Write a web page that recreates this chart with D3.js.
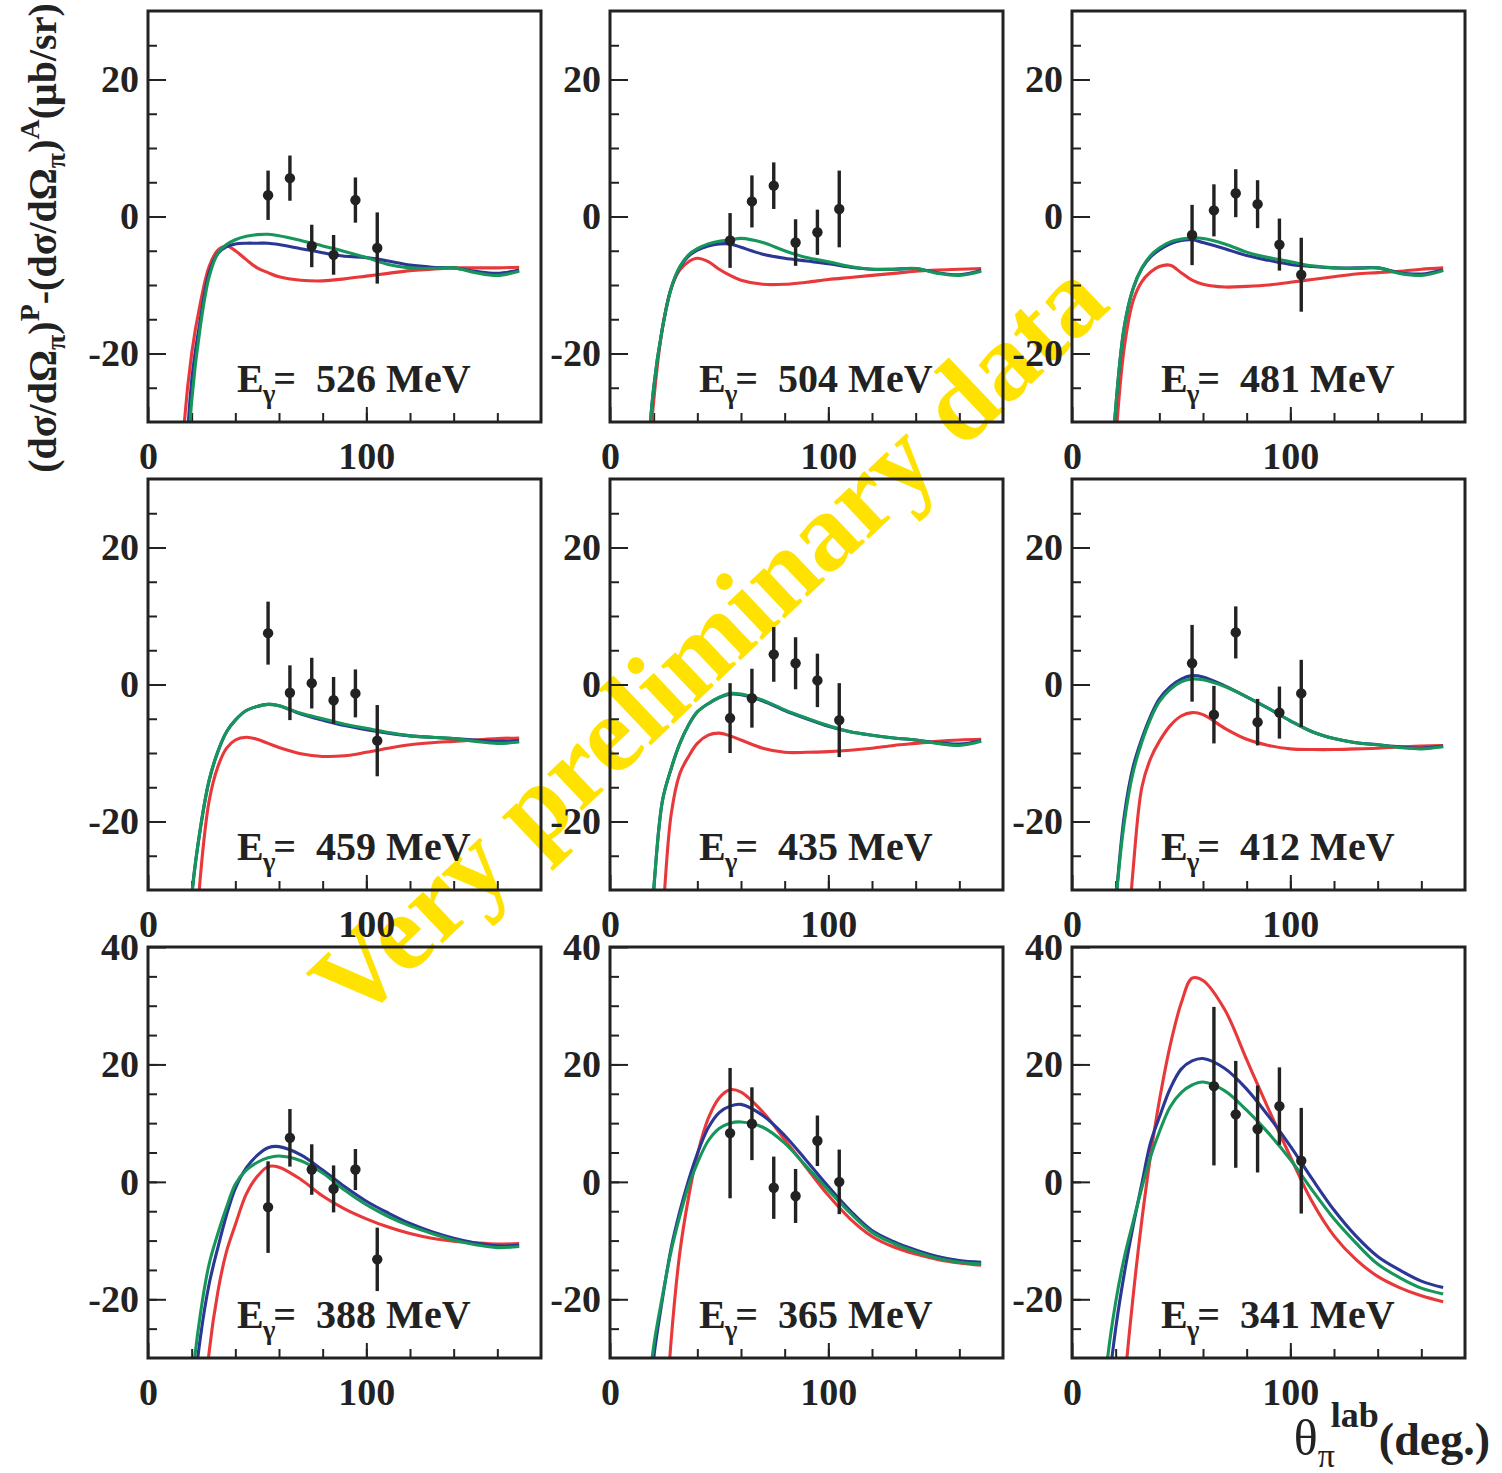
<!DOCTYPE html>
<html>
<head>
<meta charset="utf-8">
<title>Photoproduction difference, nine energies</title>
<script src="https://cdnjs.cloudflare.com/ajax/libs/d3/7.8.5/d3.min.js"></script>
<style>
  body { margin: 0; background: #fff; }
  svg { display: block; }
  .tick text { font-family: "Liberation Serif", "Times New Roman", serif; font-weight: bold; font-size: 38px; fill: #222; }
  .tick line { stroke: #222; stroke-width: 2px; }
  .domain { display: none; }
</style>
</head>
<body>
<div id="chart"></div>
<script>
// Photon energies, one panel each (row by row)
const energies = [526, 504, 481, 459, 435, 412, 388, 365, 341];

// Angle grid (deg) on which the model curves are read
const thetaGrid = [12, 16, 20, 24, 28, 32, 36, 40, 45, 50, 55, 60, 70, 80, 90, 100, 110, 120, 130, 140, 150, 160, 170];

const redCurves = [
  [-80, -33, -20, -12.6, -7.3, -4.9, -4.3, -5.0, -6.3, -7.5, -8.2, -8.8, -9.3, -9.4, -9.1, -8.7, -8.3, -7.9, -7.7, -7.5, -7.5, -7.5, -7.4],
  [-80, -45, -27, -16.3, -10.5, -7.8, -6.6, -6.1, -6.6, -7.7, -8.6, -9.3, -9.9, -9.9, -9.6, -9.2, -8.9, -8.6, -8.3, -8.0, -7.8, -7.7, -7.6],
  [-100, -60, -33, -19, -12.3, -9.5, -8.1, -7.3, -7.1, -8.2, -9.3, -9.9, -10.3, -10.2, -10.0, -9.6, -9.2, -8.8, -8.4, -8.2, -8.0, -7.7, -7.5],
  [-120, -80, -48, -28, -17, -12, -9.3, -8.1, -7.7, -8.0, -8.6, -9.2, -10.1, -10.5, -10.4, -9.9, -9.3, -8.8, -8.5, -8.3, -8.1, -7.9, -7.8],
  [-130, -90, -55, -35, -19, -13, -10.5, -8.6, -7.4, -7.1, -7.5, -8.1, -9.3, -9.9, -9.9, -9.8, -9.6, -9.3, -8.9, -8.6, -8.3, -8.1, -8.0],
  [-150, -100, -70, -45, -27, -15, -10.8, -8.3, -6.0, -4.6, -4.1, -4.4, -6.4, -8.0, -8.9, -9.4, -9.5, -9.5, -9.4, -9.3, -9.1, -9.0, -8.9],
  [-150, -110, -75, -48, -29, -18.7, -11.8, -7.3, -2.1, 0.9, 2.6, 2.5, 0.4, -2.4, -4.6, -6.3, -7.7, -8.8, -9.6, -10.1, -10.4, -10.6, -10.5],
  [-150, -110, -75, -50, -27, -12, -2.6, 4.6, 10.8, 14.3, 15.7, 15.3, 11.9, 7.2, 2.4, -2.3, -6.3, -9.3, -11.1, -12.3, -13.2, -13.8, -14.2],
  [-130, -90, -60, -35, -19.5, -6.5, 4.5, 13.8, 23.3, 30.4, 34.7, 34.3, 29.3, 20.8, 12.4, 4.3, -3.4, -9.2, -13.2, -16.1, -18.0, -19.4, -20.4]
];

const blueCurves = [
  [-90, -45, -24, -15, -8.2, -5.4, -4.4, -4.0, -3.9, -3.9, -3.9, -4.1, -4.7, -5.3, -5.8, -6.0, -6.5, -7.1, -7.4, -7.5, -8.0, -8.3, -7.8],
  [-85, -42, -25, -16.3, -10.5, -7.4, -5.8, -4.9, -4.3, -4.0, -4.0, -4.5, -5.5, -6.1, -6.5, -6.9, -7.4, -7.7, -7.7, -7.6, -8.2, -8.5, -7.9],
  [-90, -50, -28, -16, -10.5, -7.6, -5.9, -4.9, -4.0, -3.5, -3.4, -3.8, -4.7, -5.7, -6.4, -7.0, -7.3, -7.5, -7.5, -7.5, -8.2, -8.4, -7.8],
  [-100, -55, -31, -21, -14, -9.8, -6.9, -5.2, -3.8, -3.2, -2.9, -3.1, -4.3, -5.2, -6.0, -6.6, -7.1, -7.5, -7.7, -7.9, -8.1, -8.3, -8.2],
  [-90, -48, -30, -17, -12.3, -8.6, -5.9, -4.0, -2.8, -1.9, -1.4, -1.5, -2.4, -3.8, -5.0, -6.1, -6.9, -7.4, -7.8, -8.1, -8.5, -8.7, -8.2],
  [-90, -50, -32, -19, -12, -7.9, -4.6, -2.1, -0.3, 0.8, 1.3, 1.1, -0.2, -1.8, -3.5, -5.3, -6.9, -7.9, -8.5, -8.8, -9.1, -9.3, -9.0],
  [-100, -65, -40, -26.5, -17.4, -11.2, -5.6, -1.1, 2.4, 4.5, 5.8, 6.0, 4.6, 2.0, -0.8, -3.3, -5.3, -7.1, -8.5, -9.6, -10.4, -10.9, -10.8],
  [-70, -45, -30, -20, -11.3, -5.0, 0.3, 4.8, 9.2, 11.8, 12.9, 13.2, 11.3, 7.9, 3.6, -0.8, -4.9, -8.3, -10.2, -11.6, -12.7, -13.4, -13.7],
  [-60, -38, -25, -15.5, -7.5, -0.3, 6.7, 11.0, 15.9, 19.2, 20.6, 21.0, 19.3, 15.8, 11.2, 6.1, 0.5, -4.8, -9.2, -12.7, -15.0, -16.9, -18.0]
];

const greenCurves = [
  [-95, -50, -27, -16, -8.8, -5.4, -4.1, -3.4, -2.9, -2.65, -2.6, -2.8, -3.5, -4.3, -5.1, -6.0, -7.0, -7.5, -7.6, -7.5, -8.2, -8.6, -8.0],
  [-85, -42, -25, -16.3, -10.5, -7.3, -5.6, -4.7, -4.0, -3.6, -3.4, -3.2, -3.8, -5.0, -6.0, -6.6, -7.3, -7.7, -7.7, -7.6, -8.3, -8.6, -8.0],
  [-90, -50, -28, -16, -10.5, -7.5, -5.7, -4.6, -3.7, -3.3, -3.1, -3.2, -4.0, -5.2, -6.0, -6.6, -7.2, -7.5, -7.6, -7.5, -8.3, -8.6, -7.9],
  [-100, -55, -31, -21, -14, -9.8, -6.9, -5.2, -3.8, -3.2, -2.9, -3.1, -4.2, -5.0, -5.8, -6.4, -7.0, -7.5, -7.7, -7.9, -8.3, -8.6, -8.4],
  [-90, -48, -30, -17, -12.3, -8.6, -5.9, -4.0, -2.8, -1.9, -1.3, -1.4, -2.3, -3.7, -4.9, -6.0, -6.9, -7.4, -7.8, -8.1, -8.6, -8.9, -8.3],
  [-90, -50, -32, -20, -12.8, -8.4, -5.0, -2.5, -0.7, 0.4, 0.8, 0.7, -0.3, -1.8, -3.5, -5.3, -6.9, -7.9, -8.5, -8.8, -9.2, -9.4, -9.1],
  [-95, -60, -35, -22.5, -14, -8.8, -4.3, -0.4, 2.0, 3.3, 4.1, 4.4, 3.6, 1.5, -1.4, -3.9, -5.9, -7.5, -8.8, -9.9, -10.7, -11.2, -11.0],
  [-65, -42, -28, -19.5, -11.8, -5.8, -0.6, 3.2, 7.0, 9.1, 10.0, 10.2, 9.3, 6.6, 2.6, -1.4, -5.3, -8.6, -10.5, -11.9, -13.0, -13.7, -14.0],
  [-50, -31, -20.5, -12.8, -6.8, -1.0, 4.3, 8.5, 12.8, 15.2, 16.5, 17.0, 15.5, 12.2, 8.3, 3.8, -1.4, -6.3, -10.4, -14.0, -16.3, -18.1, -19.1]
];

// Measured points (deg) with values and errors in µb/sr
const dataTheta = [55, 65, 75, 85, 95, 105];
const dataValues = [
  [3.1, 5.6, -4.3, -5.6, 2.4, -4.6],
  [-3.5, 2.2, 4.5, -3.8, -2.3, 1.1],
  [-2.7, 0.9, 3.4, 1.8, -4.1, -8.5],
  [7.5, -1.2, 0.2, -2.3, -1.3, -8.2],
  [-4.9, -2.0, 4.4, 3.1, 0.6, -5.2],
  [3.1, -4.4, 7.6, -5.5, -4.1, -1.3],
  [-4.3, 7.5, 2.1, -1.2, 2.1, -13.2],
  [8.3, 9.9, -1.0, -2.4, 7.0, 0.0],
  [null, 16.3, 11.5, 9.0, 12.9, 3.6]
];
const dataErrors = [
  [3.6, 3.3, 3.1, 2.9, 3.3, 5.2],
  [4.0, 3.8, 3.4, 3.4, 3.3, 5.6],
  [4.4, 3.8, 3.5, 3.5, 3.8, 5.4],
  [4.6, 4.0, 3.7, 3.4, 3.5, 5.2],
  [5.1, 4.3, 4.0, 3.8, 3.9, 5.4],
  [5.6, 4.2, 3.8, 3.4, 3.8, 4.9],
  [7.8, 4.9, 4.3, 4.0, 3.5, 5.4],
  [11.1, 6.2, 5.3, 4.6, 4.3, 5.5],
  [null, 13.5, 9.1, 7.4, 6.6, 9.0]
];

const xTickLabels = [0, 100];
const yTickLabelsTop = [-20, 0, 20];
const yTickLabelsBottom = [-20, 0, 20, 40];

const serif = '"Liberation Serif", "Times New Roman", serif';
const width = 1502, height = 1473;
const colLeft = [148, 610, 1072];
const rowTop = [11, 479, 947];
const pw = 393, ph = 411;
const ink = '#222';
const plain = d => String(d);   // keep the ASCII hyphen for negatives

const svg = d3.select('#chart').append('svg')
    .attr('width', width)
    .attr('height', height);

svg.append('rect').attr('width', width).attr('height', height).attr('fill', '#fff');

// Watermark sits under everything
svg.append('text')
    .attr('transform', 'translate(708,640) rotate(-43.5)')
    .attr('text-anchor', 'middle')
    .attr('dominant-baseline', 'central')
    .attr('font-family', serif)
    .attr('font-weight', 'bold')
    .attr('font-size', 110)
    .attr('fill', '#ffe200')
    .text('Very preliminary data');

energies.forEach((energy, i) => {
    const col = i % 3, row = Math.floor(i / 3);
    const yMax = row === 2 ? 40 : 30;

    const x = d3.scaleLinear().domain([0, 180]).range([0, pw]);
    const y = d3.scaleLinear().domain([-30, yMax]).range([ph, 0]);

    const g = svg.append('g')
        .attr('transform', `translate(${colLeft[col]},${rowTop[row]})`);

    g.append('clipPath').attr('id', 'clip' + i)
        .append('rect').attr('width', pw).attr('height', ph);

    // minor ticks, inside the frame
    g.append('g')
        .call(d3.axisLeft(y).tickValues(d3.range(-25, yMax, 5)).tickSize(-9).tickFormat(''));
    g.append('g')
        .attr('transform', `translate(0,${ph})`)
        .call(d3.axisBottom(x).tickValues(d3.range(20, 180, 20)).tickSize(-9).tickFormat(''));

    // labelled ticks
    g.append('g')
        .call(d3.axisLeft(y).tickValues(row === 2 ? yTickLabelsBottom : yTickLabelsTop)
            .tickSize(-18).tickPadding(9).tickFormat(plain));
    g.append('g')
        .attr('transform', `translate(0,${ph})`)
        .call(d3.axisBottom(x).tickValues(xTickLabels).tickSize(-15).tickPadding(20).tickFormat(plain));

    // model curves
    const line = d3.line()
        .x((d, k) => x(thetaGrid[k]))
        .y(d => y(d))
        .curve(d3.curveCatmullRom.alpha(0.5));

    const curves = g.append('g').attr('clip-path', `url(#clip${i})`);
    [[redCurves[i], '#e8383a'], [blueCurves[i], '#2a3794'], [greenCurves[i], '#16965a']].forEach(([vals, color]) => {
        curves.append('path')
            .datum(vals)
            .attr('fill', 'none')
            .attr('stroke', color)
            .attr('stroke-width', 3.1)
            .attr('d', line);
    });

    // data with error bars
    const pts = dataTheta.map((t, k) => ({ t, v: dataValues[i][k], e: dataErrors[i][k] }))
        .filter(d => d.v !== null);

    g.selectAll('line.err')
        .data(pts)
        .join('line')
        .attr('class', 'err')
        .attr('x1', d => x(d.t)).attr('x2', d => x(d.t))
        .attr('y1', d => y(d.v - d.e)).attr('y2', d => y(d.v + d.e))
        .attr('stroke', ink)
        .attr('stroke-width', 3.4);

    g.selectAll('circle.pt')
        .data(pts)
        .join('circle')
        .attr('class', 'pt')
        .attr('cx', d => x(d.t))
        .attr('cy', d => y(d.v))
        .attr('r', 5.2)
        .attr('fill', ink);

    // energy label
    const lab = g.append('text')
        .attr('x', 89)
        .attr('y', ph - 30)
        .attr('font-family', serif)
        .attr('font-weight', 'bold')
        .attr('font-size', 40)
        .attr('fill', ink);
    lab.append('tspan').text('E');
    lab.append('tspan').attr('font-size', 27).attr('dy', 11).attr('dx', -1).text('γ');
    lab.append('tspan').attr('dy', -11).attr('dx', -2).text('=\u00a0\u00a0' + energy + ' MeV');

    // frame
    g.append('rect')
        .attr('width', pw)
        .attr('height', ph)
        .attr('fill', 'none')
        .attr('stroke', ink)
        .attr('stroke-width', 3);
});

// y-axis title
const yt = svg.append('text')
    .attr('transform', 'translate(56,238) rotate(-90)')
    .attr('text-anchor', 'middle')
    .attr('font-family', serif)
    .attr('font-weight', 'bold')
    .attr('font-size', 40)
    .attr('fill', ink);
yt.append('tspan').text('(dσ/dΩ');
yt.append('tspan').attr('font-size', 28).attr('dy', 9).text('π');
yt.append('tspan').attr('dy', -9).text(')');
yt.append('tspan').attr('font-size', 28).attr('dy', -17).text('P');
yt.append('tspan').attr('dy', 17).text('-(dσ/dΩ');
yt.append('tspan').attr('font-size', 28).attr('dy', 9).text('π');
yt.append('tspan').attr('dy', -9).text(')');
yt.append('tspan').attr('font-size', 28).attr('dy', -17).text('A');
yt.append('tspan').attr('dy', 17).text('(μb/sr)');

// x-axis title
const xt = svg.append('text')
    .attr('x', 1490)
    .attr('y', 1455)
    .attr('text-anchor', 'end')
    .attr('font-family', serif)
    .attr('font-size', 50)
    .attr('fill', ink);
xt.append('tspan').text('θ');
xt.append('tspan').attr('font-size', 34).attr('dy', 12).text('π');
xt.append('tspan').attr('font-size', 36).attr('font-weight', 'bold').attr('dy', -40).attr('dx', -4).text('lab');
xt.append('tspan').attr('font-size', 46).attr('font-weight', 'bold').attr('dy', 28).text('(deg.)');
</script>
</body>
</html>
